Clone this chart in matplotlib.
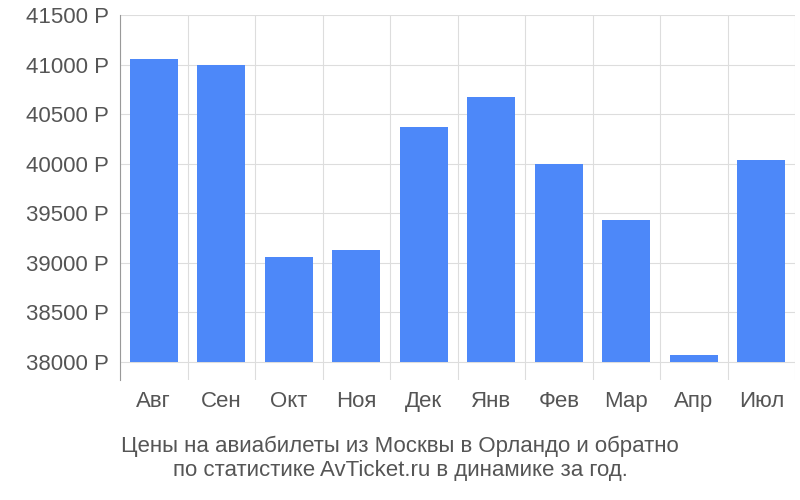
import matplotlib.pyplot as plt
import numpy as np

months = ['Авг', 'Сен', 'Окт', 'Ноя', 'Дек', 'Янв', 'Фев', 'Мар', 'Апр', 'Июл']
prices = [41060, 41000, 39060, 39130, 40370, 40670, 40000, 39430, 38070, 40040]
yticks = [38000, 38500, 39000, 39500, 40000, 40500, 41000, 41500]

plt.rcParams['font.family'] = ['Liberation Sans', 'DejaVu Sans']
fig = plt.figure(figsize=(8, 5), dpi=100)
ax = fig.add_axes([0.15, 0.24, 0.844, 0.73])

x = np.arange(len(months))
base = 38000
ax.bar(x, [p - base for p in prices], bottom=base, width=0.71, color='#4d88f9', zorder=3)

ax.set_xlim(-0.5, len(months) - 0.5)
ax.set_ylim(37818, 41500)
ax.set_yticks(yticks)
ax.set_yticklabels([f'{v} Р' for v in yticks])
ax.set_xticks(x)
ax.set_xticklabels(months)
ax.set_xticks(np.arange(-0.5, len(months)), minor=True)
ax.grid(True, axis='y', color='#dddddd', zorder=0)
ax.grid(True, axis='x', which='minor', color='#dddddd', zorder=0)
ax.tick_params(axis='both', length=0, labelsize=16, colors='#555555', pad=8)
ax.tick_params(axis='x', which='minor', length=0)
for s in ['top', 'right', 'bottom']:
    ax.spines[s].set_visible(False)
ax.spines['left'].set_color('#999999')

fig.text(0.5, 0.083, 'Цены на авиабилеты из Москвы в Орландо и обратно\nпо статистике AvTicket.ru в динамике за год.',
         ha='center', va='center', fontsize=16, color='#555555', linespacing=1.2)

fig.savefig('out.png')
